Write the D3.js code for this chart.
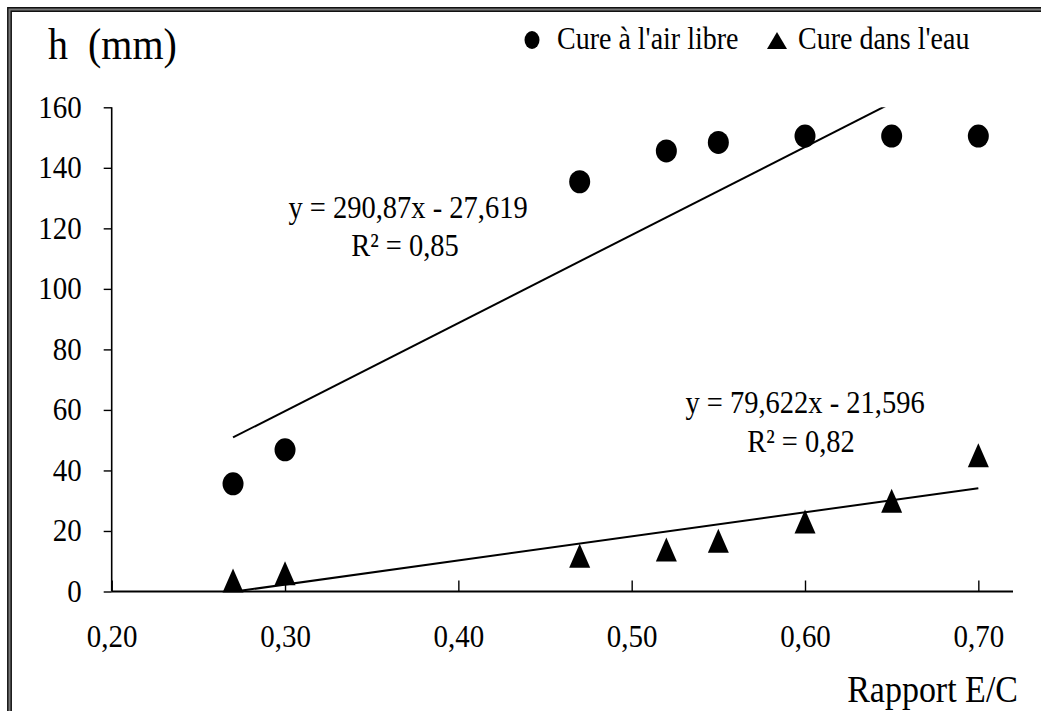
<!DOCTYPE html>
<html><head><meta charset="utf-8">
<script src="https://cdn.jsdelivr.net/npm/d3@7"></script>
<style>html,body{margin:0;padding:0;background:#fff;}svg{display:block;}
svg text{font-family:"Liberation Serif","DejaVu Serif",serif;}</style>
</head><body>
<svg id="chart" width="1041" height="711"></svg>
<script>
// ---- data ----
const ratios = [0.27, 0.30, 0.47, 0.52, 0.55, 0.60, 0.65, 0.70];
const airValues = [35.6, 46.8, 135.4, 145.6, 148.4, 150.5, 150.5, 150.5];
const waterValues = [3.6, 6, 11.8, 13.9, 16.8, 23.1, 30, 45];
const seriesNames = ["Cure à l'air libre", "Cure dans l'eau"];
const airTrend = [290.87, -27.619];   // slope, intercept
const waterTrend = [79.622, -21.596];
const airTrendLabels = ["y = 290,87x - 27,619", "R² = 0,85"];
const waterTrendLabels = ["y = 79,622x - 21,596", "R² = 0,82"];
const xTicks = [0.2, 0.3, 0.4, 0.5, 0.6, 0.7];
const yTicks = [0, 20, 40, 60, 80, 100, 120, 140, 160];
const yTitle = "h  (mm)";
const xTitle = "Rapport E/C";

const FONT = '"Liberation Serif", "DejaVu Serif", serif';
const SY = 1.12; // vertical text stretch seen in the reference

const svg = d3.select("#chart");
const x = d3.scaleLinear().domain([0.2, 0.72]).range([111.7, 1013]);
const y = d3.scaleLinear().domain([0, 160]).range([591.5, 107.3]);

// frame (only left and top visible)
svg.append("path").attr("d", "M9.5,711V9.5H1041").attr("fill", "none")
  .attr("stroke", "#777").attr("stroke-width", 4.5);
svg.append("path").attr("d", "M7.8,711V7.8H1041").attr("fill", "none")
  .attr("stroke", "#111").attr("stroke-width", 1.4);
svg.append("path").attr("d", "M11.2,711V11.2H1041").attr("fill", "none")
  .attr("stroke", "#111").attr("stroke-width", 1.4);

function addText(tx, ty, str, size, anchor) {
  return svg.append("text")
    .attr("transform", `translate(${tx},${ty}) scale(1,${SY})`)
    .style("font-family", FONT).style("font-size", size + "px")
    .attr("text-anchor", anchor || "start").attr("fill", "#000")
    .style("white-space", "pre")
    .text(str);
}

// axes
const fmt = d => d3.format(".2f")(d).replace(".", ",");
const yAxis = svg.append("g").attr("transform", `translate(${x(0.2)},0)`)
  .call(d3.axisLeft(y).tickValues(yTicks).tickSize(8).tickFormat(d3.format("d")));
yAxis.attr("font-family", null).attr("font-size", null);
yAxis.select(".domain").attr("d", `M0,${y(0)}V${y(160)}`).attr("stroke-width", 1.6);
yAxis.selectAll(".tick line").attr("stroke-width", 1.4);
yAxis.selectAll(".tick text").attr("x", null).attr("dy", null)
  .attr("transform", `translate(-30,10) scale(1,${SY})`)
  .style("font-family", FONT).style("font-size", "29px").attr("fill", "#000");

const xAxis = svg.append("g").attr("transform", `translate(0,${y(0)})`)
  .call(d3.axisBottom(x).tickValues(xTicks).tickSize(-11).tickFormat(fmt));
xAxis.attr("font-family", null).attr("font-size", null);
xAxis.select(".domain").attr("d", `M${x(0.2)},0H${x(0.72)}`).attr("stroke-width", 2);
xAxis.selectAll(".tick line").attr("stroke-width", 1.4);
xAxis.selectAll(".tick text").attr("y", null).attr("dy", null)
  .attr("transform", `translate(0,55) scale(1,${SY})`)
  .style("font-family", FONT).style("font-size", "29px").attr("fill", "#000");

// titles
addText(48, 59, yTitle, 40);
addText(1018, 702, xTitle, 34, "end");

// clip
svg.append("clipPath").attr("id", "plotclip").append("rect")
  .attr("x", x(0.2)).attr("y", y(160)).attr("width", x(0.72) - x(0.2)).attr("height", y(0) - y(160));

// trend lines
const trendX = [ratios[0], ratios[ratios.length - 1]];
[airTrend, waterTrend].forEach(t => {
  svg.append("path")
    .attr("clip-path", "url(#plotclip)")
    .attr("d", d3.line().x(d => x(d)).y(d => y(t[0] * d + t[1]))(trendX))
    .attr("fill", "none").attr("stroke", "#000").attr("stroke-width", 2);
});

// markers
svg.append("g").selectAll("ellipse").data(ratios).join("ellipse")
  .attr("cx", d => x(d)).attr("cy", (d, i) => y(airValues[i]))
  .attr("rx", 10.5).attr("ry", 11.5).attr("fill", "#000");

const tri = (cx, cy, w, h) => `M${cx},${cy - h / 2}L${cx + w / 2},${cy + h / 2}L${cx - w / 2},${cy + h / 2}Z`;
svg.append("g").selectAll("path").data(ratios).join("path")
  .attr("d", (d, i) => tri(x(d), y(waterValues[i]), 21, 24)).attr("fill", "#000");

// trend equations
addText(408, 218, airTrendLabels[0], 28.5, "middle");
addText(405, 256, airTrendLabels[1], 28.5, "middle");
addText(805, 413, waterTrendLabels[0], 28.5, "middle");
addText(801, 452, waterTrendLabels[1], 28.5, "middle");

// legend
svg.append("ellipse").attr("cx", 532).attr("cy", 40).attr("rx", 7.5).attr("ry", 9).attr("fill", "#000");
addText(557, 49, seriesNames[0], 28);
svg.append("path").attr("d", tri(777, 40.5, 20, 17)).attr("fill", "#000");
addText(798, 49, seriesNames[1], 28);
</script>
</body></html>
